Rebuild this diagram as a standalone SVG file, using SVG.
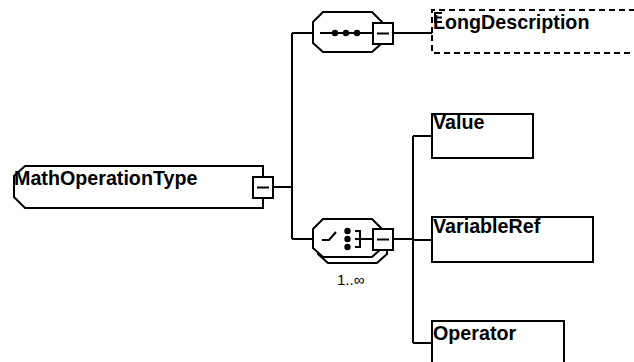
<svg xmlns="http://www.w3.org/2000/svg" width="634" height="362" viewBox="0 0 634 362">
<style>
.ln{fill:none;stroke:#000;stroke-width:2}
.bx{fill:#fff;stroke:#000;stroke-width:2}
.dash{fill:#fff;stroke:#000;stroke-width:2;stroke-dasharray:6 4}
.t{font-family:"Liberation Sans",Arial,sans-serif;font-weight:bold;font-size:19.7px;fill:#000}
.s{font-family:"Liberation Sans",Arial,sans-serif;font-size:15px;fill:#000}
</style>
<rect width="634" height="362" fill="#fff"/>
<g id="connectors">
<path class="ln" d="M273 187H292M292 33V239M292 33H313M292 239H313"/>
<path class="ln" d="M393 33H432"/>
<path class="ln" d="M393 239H413M413 136V343M413 136H432M413 240H432M413 343H432"/>
</g>
<g id="MathOperationType">
<path class="bx" d="M25 166H263V208H25L14 197V176Z"/>
<text class="t" x="14" y="184.5">MathOperationType</text>
<rect class="bx" x="253" y="177" width="20" height="21"/>
<path class="ln" d="M257 187.5H269"/>
</g>
<g id="sequence">
<path class="bx" d="M323 12H372L382 22V43L372 52H323L313 43V22Z"/>
<path class="ln" d="M320 33H373"/>
<circle cx="335" cy="33" r="3.2"/>
<circle cx="346" cy="33" r="3.2"/>
<circle cx="357" cy="33" r="3.2"/>
<rect class="bx" x="373" y="23" width="20" height="21"/>
<path class="ln" d="M377 33.5H389"/>
</g>
<g id="choice">
<path class="bx" d="M328 225H377L387 235V254L377 263H328L318 254V235Z"/>
<path class="bx" d="M323 219H372L382 229V248L372 257H323L313 248V229Z"/>
<path class="ln" d="M322 240H329L336 232"/>
<circle cx="347.5" cy="231" r="3.2"/>
<circle cx="347.5" cy="239" r="3.2"/>
<circle cx="347.5" cy="247" r="3.2"/>
<path class="ln" d="M355 231H360V247H355M355 239H373"/>
<rect class="bx" x="373" y="229" width="20" height="21"/>
<path class="ln" d="M377 239.5H389"/>
<text class="s" x="337" y="285">1..∞</text>
</g>
<g id="LongDescription">
<path class="dash" d="M432 33V10H640M640 53H432V33"/>
<text class="t" x="433" y="28.5">LongDescription</text>
<path class="ln" d="M435 12V23M434 13H442M434 17.5H442M434 22H442" stroke-width="1.5"/>
</g>
<g id="Value">
<rect class="bx" x="432" y="114" width="101" height="44"/>
<text class="t" x="433" y="128.5">Value</text>
</g>
<g id="VariableRef">
<rect class="bx" x="432" y="217" width="161" height="45"/>
<text class="t" x="433" y="232.5">VariableRef</text>
</g>
<g id="Operator">
<rect class="bx" x="432" y="321" width="132" height="50"/>
<text class="t" x="433" y="340">Operator</text>
</g>
</svg>
